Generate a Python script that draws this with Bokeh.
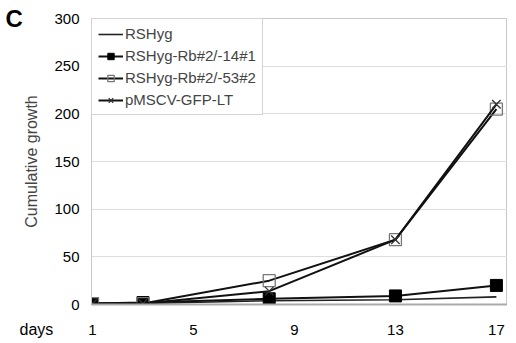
from bokeh.plotting import figure
from bokeh.models import Range1d, Legend, LegendItem, Label, FixedTicker, ColumnDataSource
from bokeh.embed import file_html
from bokeh.resources import INLINE

days = [1, 3, 8, 13, 17]
rshyg = [1, 1, 4, 5, 8]
rb14 = [1, 2, 6, 9, 20]
rb53 = [1, 1, 25, 68, 205]
lt = [1, 1, 14, 68, 210]
series_names = ["RSHyg", "RSHyg-Rb#2/-14#1", "RSHyg-Rb#2/-53#2", "pMSCV-GFP-LT"]
x_ticks = [1, 5, 9, 13, 17]
y_ticks = [0, 50, 100, 150, 200, 250, 300]

FONT = "Liberation Sans"
H_TOP, H_FRAME, H_BOTTOM = 18, 286, 39

p = figure(frame_width=416, frame_height=H_FRAME, output_backend="svg", toolbar_location=None,
           x_range=Range1d(0.96, 17.44), y_range=Range1d(0, 300),
           min_border_left=91, min_border_top=H_TOP, min_border_bottom=H_BOTTOM, min_border_right=0)
p.background_fill_color = "white"
p.border_fill_color = "white"
p.outline_line_color = "#c8c8c8"

src = ColumnDataSource(dict(x=days, a=rshyg, b=rb14, c=rb53, d=lt))

r1 = p.line("x", "a", source=src, line_color="#222222", line_width=1.6)
l2 = p.line("x", "b", source=src, line_color="#111111", line_width=2)
m2 = p.scatter("x", "b", source=src, marker="square", size=12, fill_color="black", line_color="black")
l3 = p.line("x", "c", source=src, line_color="#111111", line_width=2)
m3 = p.scatter("x", "c", source=src, marker="square", size=12, fill_color=None, line_color="#777777", line_width=1.3)
l4 = p.line("x", "d", source=src, line_color="#111111", line_width=2)
m4 = p.scatter("x", "d", source=src, marker="x", size=12, line_color="#333333", line_width=1.3)

for ax in (p.xaxis[0], p.yaxis[0]):
    ax.major_label_text_font = FONT
    ax.major_label_text_font_size = "15px"
    ax.major_label_text_color = "black"
    ax.major_tick_line_color = None
    ax.major_tick_out = 0
    ax.major_tick_in = 0
    ax.minor_tick_line_color = None
    ax.minor_tick_out = 0

p.xaxis.ticker = FixedTicker(ticks=x_ticks)
p.xaxis.axis_line_color = "#aaaaaa"
p.xaxis.axis_line_width = 2
p.xaxis.major_label_standoff = 20
p.yaxis.ticker = FixedTicker(ticks=y_ticks)
p.yaxis.axis_line_color = "#c8c8c8"
p.yaxis.major_label_standoff = 12
p.yaxis.axis_label = "Cumulative growth"
p.yaxis.axis_label_text_font = FONT
p.yaxis.axis_label_text_font_size = "16px"
p.yaxis.axis_label_text_font_style = "normal"
p.yaxis.axis_label_standoff = 11

p.xgrid.grid_line_color = None
p.ygrid.grid_line_color = "#dddddd"
p.ygrid.ticker = FixedTicker(ticks=y_ticks)

legend = Legend(items=[
    LegendItem(label=series_names[0], renderers=[r1]),
    LegendItem(label=series_names[1], renderers=[l2, m2]),
    LegendItem(label=series_names[2], renderers=[l3, m3]),
    LegendItem(label=series_names[3], renderers=[l4, m4]),
], location="top_left")
legend.label_text_font = FONT
legend.label_text_font_size = "15px"
legend.label_height = 16
legend.glyph_width = 25
legend.glyph_height = 16
legend.spacing = 5
legend.padding = 6
legend.margin = 0
legend.label_standoff = 2
legend.border_line_color = "#aaaaaa"
legend.background_fill_alpha = 1
p.add_layout(legend)

# panel letter and x-axis caption, placed in side panels so they are not clipped to the frame
p.add_layout(Label(x=5, y=18, x_units="canvas", y_units="canvas", text="C", text_baseline="middle",
                   text_font=FONT, text_font_size="24px", text_font_style="bold", text_color="black"), "left")
p.add_layout(Label(x=19, y=329, x_units="canvas", y_units="canvas", text="days", text_baseline="middle",
                   text_font=FONT, text_font_size="16px", text_color="black"), "above")

open("out.html", "w").write(file_html(p, INLINE))
